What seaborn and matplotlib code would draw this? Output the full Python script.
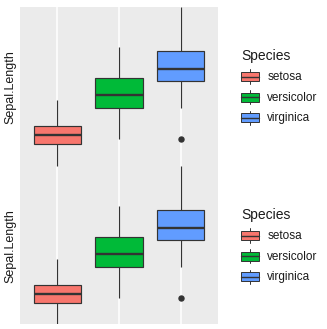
import numpy as np
import pandas as pd
import matplotlib
matplotlib.use("Agg")
import matplotlib.pyplot as plt
import seaborn as sns
from matplotlib.patches import Rectangle
from matplotlib.lines import Line2D
from matplotlib.legend_handler import HandlerBase

# ---- data (box summaries of Sepal.Length) ----
species = ["setosa", "versicolor", "virginica"]
whisker_low = [4.3, 4.9, 5.6]
q1 = [4.8, 5.6, 6.225]
median = [5.0, 5.9, 6.5]
q3 = [5.2, 6.3, 6.9]
whisker_high = [5.8, 7.0, 7.9]
outliers = [[], [], [4.9]]
colors = ["#F8766D", "#00BA38", "#619CFF"]
legend_title = "Species"
y_label = "Sepal.Length"

# build samples whose boxplot statistics reproduce the summaries
rows = []
for i, sp in enumerate(species):
    low_side = sorted(outliers[i] + [whisker_low[i]] * (2 - len(outliers[i])))
    vals = low_side + [q1[i]] * 4 + [median[i]] + [q3[i]] * 4 + [whisker_high[i]] * 2
    rows += [(sp, v) for v in vals]
df = pd.DataFrame(rows, columns=["Species", "Sepal.Length"])

sns.set_style("white")
plt.rcParams["font.family"] = ["Liberation Sans", "DejaVu Sans"]

W, H = 327, 329
fig = plt.figure(figsize=(W / 100, H / 100), dpi=100)


def fx(px):
    return px / W


def fy(py):
    return 1 - py / H


EDGE = "#333333"
TXT = "#1a1a1a"

ax1 = fig.add_axes([fx(20), fy(324), fx(218) - fx(20), fy(7) - fy(324)])
ax2 = fig.add_axes([fx(20), fy(324), fx(218) - fx(20), fy(158) - fy(324)])


def draw(ax):
    sns.boxplot(data=df, x="Species", y="Sepal.Length", hue="Species",
                palette=colors, saturation=1, width=0.76, linewidth=0.85,
                linecolor=EDGE, legend=False, showcaps=False,
                flierprops=dict(marker="o", markersize=3.6,
                                markerfacecolor=EDGE, markeredgecolor=EDGE),
                medianprops=dict(linewidth=1.7, color=EDGE),
                ax=ax)
    ax.set_xlim(-0.6, 2.6)
    ax.set_xlabel("")
    ax.set_ylabel("")
    ax.tick_params(length=0, labelbottom=False, labelleft=False)
    for s in ax.spines.values():
        s.set_visible(False)


draw(ax1)
ax1.set_facecolor("#EBEBEB")
ax1.set_ylim(0.724, 7.896)
ax1.set_axisbelow(True)
ax1.grid(axis="x", color="white", linewidth=1.1)
ax1.grid(axis="y", visible=False)

draw(ax2)
ax2.set_facecolor("none")
ax2.patch.set_alpha(0)
ax2.set_ylim(4.321, 8.077)
ax2.grid(False)

fig.text(fx(10), fy(87), y_label, rotation=90, ha="center", va="center",
         fontsize=9, color=TXT)
fig.text(fx(10), fy(246), y_label, rotation=90, ha="center", va="center",
         fontsize=9, color=TXT)


class BoxKey(HandlerBase):
    def create_artists(self, legend, orig_handle, xdescent, ydescent,
                       width, height, fontsize, trans):
        x0, y0 = -xdescent, -ydescent
        cx = x0 + width / 2
        bh = height * 0.64
        by = y0 + (height - bh) / 2
        rect = Rectangle((x0, by), width, bh,
                         facecolor=orig_handle.get_facecolor(),
                         edgecolor=EDGE, lw=0.7, transform=trans)
        med = Line2D([x0, x0 + width], [y0 + height / 2] * 2, color=EDGE,
                     lw=1.0, transform=trans)
        wl = Line2D([cx, cx], [y0, by], color=EDGE, lw=0.7, transform=trans)
        wh = Line2D([cx, cx], [by + bh, y0 + height], color=EDGE, lw=0.7,
                    transform=trans)
        return [wl, wh, rect, med]


for top in (49, 49 + 159):
    handles = [Rectangle((0, 0), 1, 1, facecolor=c) for c in colors]
    leg = fig.legend(handles, species, title=legend_title, loc="upper left",
                     bbox_to_anchor=(fx(241), fy(top)), frameon=False,
                     borderpad=0, borderaxespad=0, fontsize=8.5,
                     title_fontsize=10, handlelength=1.53, handleheight=1.45,
                     labelspacing=0.55, handletextpad=0.7, alignment="left",
                     handler_map={Rectangle: BoxKey()}, labelcolor=TXT)
    leg.get_title().set_color(TXT)

fig.savefig("out.png", dpi=100)
